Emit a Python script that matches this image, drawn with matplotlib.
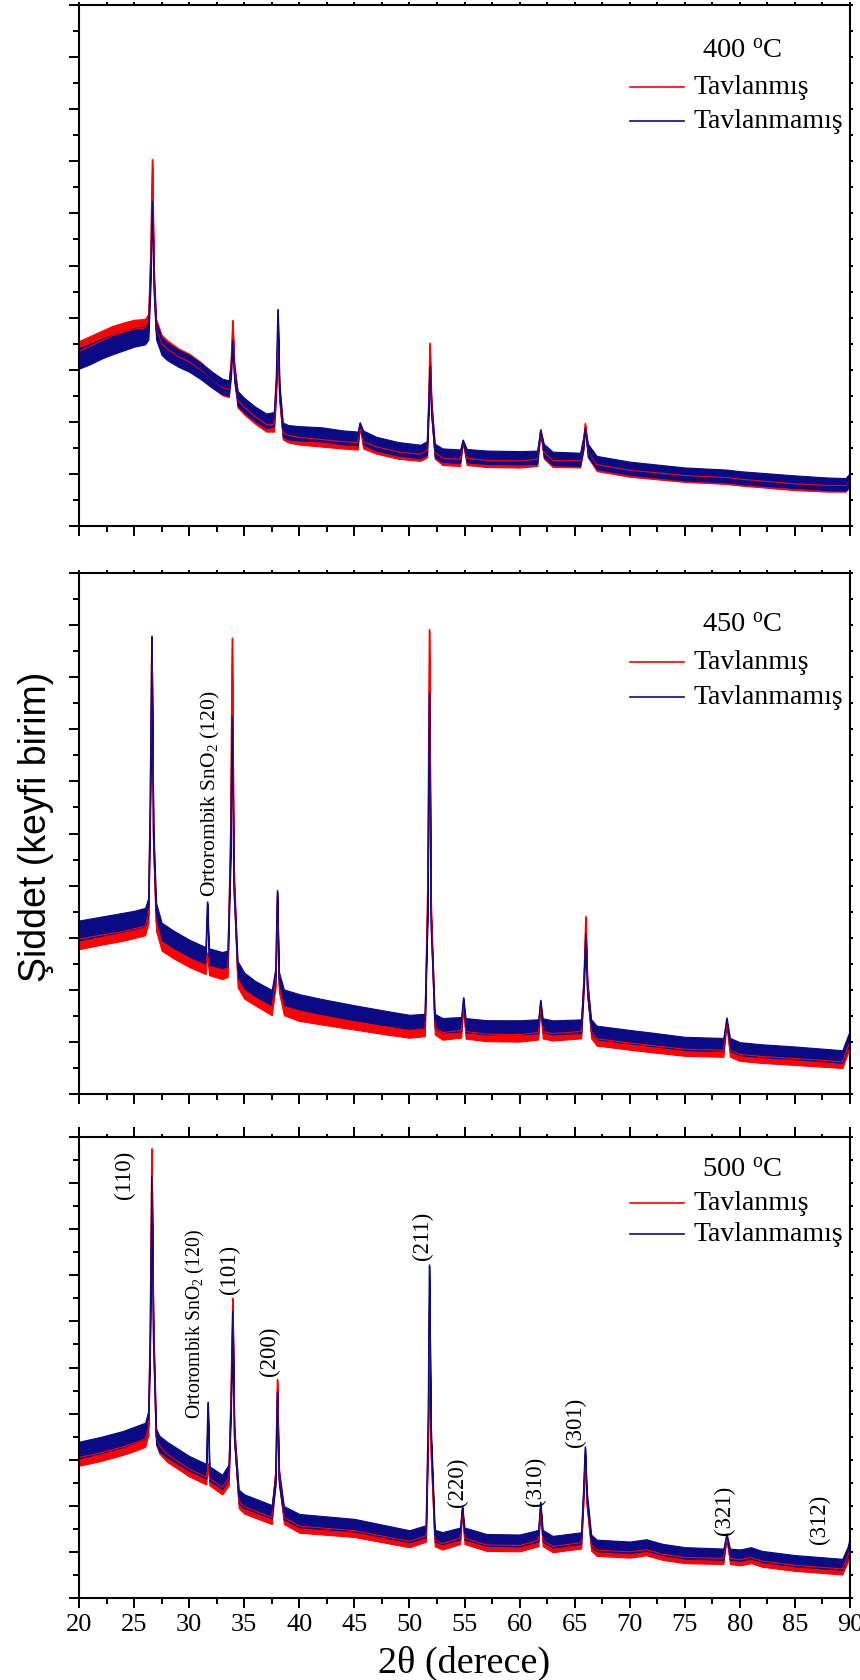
import matplotlib.pyplot as plt
import numpy as np
from matplotlib.lines import Line2D
from matplotlib.ticker import MultipleLocator

plt.rcParams['font.family'] = ['Liberation Serif', 'DejaVu Serif']
plt.rcParams['mathtext.fontset'] = 'custom'
plt.rcParams['mathtext.rm'] = 'Liberation Serif'
plt.rcParams['mathtext.it'] = 'Liberation Serif:italic'

RED = '#ff0000'
BLUE = '#0a0a85'

# 400 C : 2theta, intensity (arbitrary units, 0-10 per panel)
x_400 = [20.0, 21.0, 22.0, 23.0, 24.0, 25.0, 26.0, 26.3, 26.5, 26.65, 26.8, 27.0, 27.5, 28.0,
         29.0, 30.0, 31.0, 32.0, 33.0, 33.6, 33.8, 33.95, 34.1, 34.4, 35.0, 36.0, 37.0, 37.7,
         37.9, 38.05, 38.2, 38.5, 39.0, 40.0, 42.0, 44.0, 45.3, 45.5, 45.8, 47.0, 49.0, 51.0,
         51.6, 51.75, 51.85, 52.0, 52.3, 53.0, 54.6, 54.85, 55.2, 57.0, 60.0, 61.6, 61.9, 62.2,
         63.0, 65.5, 65.8, 65.95, 66.2, 67.0, 70.0, 75.0, 78.8, 80.0, 85.0, 88.0, 89.6, 90.0]
blue_400 = [3.22, 3.30, 3.40, 3.48, 3.55, 3.62, 3.66, 3.75, 4.8, 6.23, 4.6, 3.75, 3.45, 3.35,
            3.22, 3.12, 2.98, 2.82, 2.68, 2.65, 3.0, 3.57, 2.9, 2.45, 2.32, 2.15, 2.02, 2.05,
            2.8, 4.15, 2.6, 1.85, 1.80, 1.78, 1.76, 1.70, 1.68, 1.97, 1.70, 1.58, 1.48, 1.43,
            1.5, 2.3, 3.07, 2.2, 1.45, 1.36, 1.34, 1.64, 1.35, 1.32, 1.31, 1.32, 1.84, 1.45,
            1.30, 1.28, 1.6, 1.87, 1.45, 1.22, 1.11, 1.00, 0.96, 0.93, 0.85, 0.81, 0.80, 0.90]
red_400 = [3.35, 3.45, 3.55, 3.65, 3.72, 3.78, 3.80, 3.90, 5.2, 7.03, 4.8, 3.8, 3.5, 3.4,
           3.25, 3.15, 3.0, 2.82, 2.66, 2.62, 3.1, 3.94, 3.0, 2.42, 2.28, 2.1, 1.95, 1.95,
           2.6, 3.6, 2.5, 1.8, 1.74, 1.70, 1.66, 1.62, 1.60, 1.90, 1.62, 1.52, 1.42, 1.38,
           1.45, 2.5, 3.50, 2.3, 1.42, 1.30, 1.28, 1.62, 1.30, 1.26, 1.25, 1.28, 1.80, 1.42,
           1.26, 1.25, 1.6, 1.96, 1.45, 1.18, 1.07, 0.97, 0.93, 0.90, 0.81, 0.78, 0.78, 0.88]

# 450 C
x_450 = [20.0, 22.0, 24.0, 25.0, 26.0, 26.3, 26.45, 26.6, 26.75, 27.0, 27.5, 28.5, 30.0, 31.5,
         31.65, 31.8, 33.0, 33.5, 33.75, 33.9, 34.05, 34.4, 35.0, 36.0, 37.5, 37.85, 38.0, 38.15,
         38.6, 40.0, 42.0, 45.0, 48.0, 50.0, 51.4, 51.65, 51.8, 51.95, 52.3, 53.0, 54.7, 54.9,
         55.1, 57.0, 60.0, 61.7, 61.9, 62.1, 63.0, 65.6, 65.85, 66.0, 66.15, 66.5, 67.0, 70.0,
         72.0, 75.0, 78.5, 78.8, 79.1, 80.0, 82.0, 85.0, 89.3, 89.8, 90.0]
blue_450 = [3.14, 3.22, 3.30, 3.34, 3.40, 3.6, 5.5, 8.78, 5.0, 3.5, 3.12, 2.98, 2.80, 2.66,
            3.68, 2.64, 2.57, 2.6, 4.5, 7.24, 4.0, 2.4, 2.18, 2.02, 1.85, 2.3, 3.90, 2.2,
            1.86, 1.77, 1.68, 1.56, 1.45, 1.38, 1.40, 3.5, 7.70, 3.3, 1.40, 1.32, 1.34, 1.84,
            1.32, 1.28, 1.28, 1.30, 1.79, 1.32, 1.28, 1.30, 2.2, 3.07, 2.0, 1.3, 1.18, 1.10,
            1.05, 0.97, 0.95, 1.45, 0.95, 0.87, 0.83, 0.79, 0.72, 1.0, 1.10]
red_450 = [2.97, 3.05, 3.12, 3.17, 3.22, 3.45, 5.4, 8.72, 4.9, 3.3, 2.92, 2.78, 2.60, 2.46,
           2.7, 2.44, 2.36, 2.4, 5.0, 8.74, 4.3, 2.2, 1.98, 1.85, 1.66, 2.2, 3.80, 2.1,
           1.66, 1.55, 1.48, 1.38, 1.28, 1.22, 1.25, 4.0, 8.91, 3.6, 1.28, 1.18, 1.22, 1.70,
           1.2, 1.15, 1.14, 1.18, 1.70, 1.2, 1.16, 1.2, 2.3, 3.40, 2.1, 1.2, 1.06, 0.98,
           0.93, 0.86, 0.84, 1.35, 0.84, 0.76, 0.72, 0.68, 0.62, 0.9, 1.00]

# 500 C
x_500 = [20.0, 22.0, 24.0, 25.0, 26.0, 26.3, 26.45, 26.6, 26.75, 27.0, 27.3, 28.0, 30.0, 31.55,
         31.7, 31.85, 33.0, 33.6, 33.8, 33.95, 34.1, 34.5, 35.0, 37.5, 37.85, 38.0, 38.15, 38.6,
         40.0, 45.0, 50.0, 51.5, 51.7, 51.8, 51.95, 52.3, 53.0, 54.6, 54.8, 55.0, 57.0, 60.0,
         61.7, 61.9, 62.1, 63.0, 65.6, 65.8, 65.95, 66.1, 66.5, 67.0, 70.0, 71.5, 73.0, 75.0,
         78.5, 78.8, 79.1, 80.0, 81.0, 82.0, 85.0, 89.3, 89.8, 90.0]
blue_500 = [3.21, 3.32, 3.45, 3.54, 3.63, 3.9, 5.5, 9.15, 5.6, 3.5, 3.35, 3.22, 2.92, 2.75,
            4.24, 2.7, 2.52, 2.75, 4.2, 6.22, 3.5, 2.2, 2.10, 1.87, 2.6, 4.47, 2.6, 1.85,
            1.68, 1.58, 1.34, 1.45, 4.0, 7.22, 3.6, 1.35, 1.30, 1.40, 1.98, 1.40, 1.26, 1.25,
            1.35, 2.07, 1.35, 1.22, 1.3, 2.3, 3.27, 2.2, 1.25, 1.14, 1.10, 1.15, 1.05, 0.98,
            0.95, 1.38, 0.95, 0.93, 0.98, 0.9, 0.81, 0.73, 1.0, 1.22]
red_500 = [3.05, 3.15, 3.28, 3.36, 3.45, 3.7, 5.8, 9.74, 5.9, 3.5, 3.3, 3.12, 2.80, 2.62,
           2.9, 2.6, 2.40, 2.6, 4.6, 6.50, 3.6, 2.1, 1.98, 1.75, 2.7, 4.74, 2.7, 1.75,
           1.56, 1.46, 1.23, 1.35, 3.5, 6.26, 3.2, 1.25, 1.18, 1.3, 1.90, 1.3, 1.15, 1.14,
           1.25, 1.95, 1.25, 1.12, 1.2, 2.2, 3.09, 2.1, 1.15, 1.04, 1.00, 1.05, 0.95, 0.88,
           0.86, 1.30, 0.86, 0.83, 0.88, 0.8, 0.71, 0.63, 0.9, 1.10]

# noise band half-width of the measured traces
noise_x = [20, 27, 35, 50, 90]
noise_400 = [0.20, 0.17, 0.14, 0.13, 0.12]
noise_450 = [0.19, 0.17, 0.15, 0.14, 0.12]
noise_500 = [0.18, 0.17, 0.15, 0.13, 0.12]

temps = ['400', '450', '500']
series = [(x_400, red_400, blue_400, noise_400),
          (x_450, red_450, blue_450, noise_450),
          (x_500, red_500, blue_500, noise_500)]

# peak labels for 450 C and 500 C panels
ann_450 = [(31.95, 5.78, 'Ortorombik SnO$_2$ (120)', 15.5)]
ann_500 = [(24.1, 9.2, '(110)', 16.5), (30.6, 5.96, 'Ortorombik SnO$_2$ (120)', 14.2),
           (33.7, 7.14, '(101)', 16.5), (37.3, 5.38, '(200)', 16.5), (51.2, 7.87, '(211)', 16.5),
           (54.4, 2.54, '(220)', 16.5), (61.4, 2.56, '(310)', 16.5), (65.05, 3.84, '(301)', 16.5),
           (78.6, 1.93, '(321)', 16.5), (87.25, 1.72, '(312)', 16.5)]
annotations = [[], ann_450, ann_500]

fig = plt.figure(figsize=(8.6, 16.81), dpi=100)
W, H = 860.0, 1681.0
boxes = [(79, 6, 850, 527), (79, 574, 850, 1095), (79, 1138, 850, 1599)]
# legend rows (title, red, blue) in pixels below top of the panel
leg_rows = [(46, 82, 116), (52, 89, 124), (33, 65.5, 97)]

for i, (l, t, r, b) in enumerate(boxes):
    ax = fig.add_axes([l / W, 1 - b / H, (r - l) / W, (b - t) / H])
    xs, red, blue, nz = series[i]
    xs = np.array(xs)
    hw = np.interp(xs, noise_x, nz)
    for yy, c in ((red, RED), (blue, BLUE)):
        yy = np.array(yy)
        # peak tips: no noise band above the read maximum
        tip = np.zeros(len(yy), bool)
        tip[1:-1] = (yy[1:-1] - np.maximum(yy[:-2], yy[2:])) > 0.15
        h = np.where(tip, 0.02, hw)
        ax.fill_between(xs, yy - h, yy + h, color=c, lw=0.8, edgecolor=c)
        ax.plot(xs, yy, color=c, lw=0.8)
    ax.set_xlim(20, 90)
    ax.set_ylim(0, 10)
    ax.xaxis.set_major_locator(MultipleLocator(5))
    ax.xaxis.set_minor_locator(MultipleLocator(2.5))
    ax.yaxis.set_major_locator(MultipleLocator(1))
    ax.yaxis.set_minor_locator(MultipleLocator(0.5))
    ax.tick_params(which='both', direction='out', left=True, bottom=True,
                   top=True, right=True, width=1.4)
    ax.tick_params(which='major', length=7)
    ax.tick_params(which='minor', length=4)
    ax.set_yticklabels([])
    for s in ax.spines.values():
        s.set_linewidth(1.5)
    # short ticks on top and right spines
    for tk in ax.xaxis.get_major_ticks() + ax.xaxis.get_minor_ticks():
        tk.tick2line.set_markersize(2.5)
    for tk in ax.yaxis.get_major_ticks() + ax.yaxis.get_minor_ticks():
        tk.tick2line.set_markersize(2.5)
    if i < 2:
        ax.set_xticklabels([])
    else:
        ax.tick_params(axis='x', labelsize=19, pad=4)
        ax.set_xlabel('2θ (derece)', fontsize=27.5, labelpad=7)

    ph = b - t
    pw = r - l
    ty, ry, by = leg_rows[i]
    ax.text((742 - l) / pw, 1 - ty / ph, temps[i] + r' $^{\mathrm{o}}$C', transform=ax.transAxes,
            ha='center', va='center', fontsize=20.5)
    for yrow, c, lab in ((ry, RED, 'Tavlanmış'), (by, BLUE, 'Tavlanmamış')):
        ax.add_line(Line2D([(630 - l) / pw, (684 - l) / pw], [1 - yrow / ph] * 2,
                           transform=ax.transAxes, color=c, lw=1.2))
        ax.text((694 - l) / pw, 1 - yrow / ph, lab, transform=ax.transAxes,
                ha='left', va='center', fontsize=20)

    for (ax_x, ax_y, txt, fs) in annotations[i]:
        ax.text(ax_x, ax_y, txt, rotation=90, ha='center', va='center', fontsize=fs)

fig.text(36 / W, 1 - 827 / H, 'Şiddet (keyfi birim)', rotation=90, ha='center', va='center',
         fontsize=27, family=['Liberation Sans', 'DejaVu Sans'])

fig.savefig('out.png', dpi=100)
